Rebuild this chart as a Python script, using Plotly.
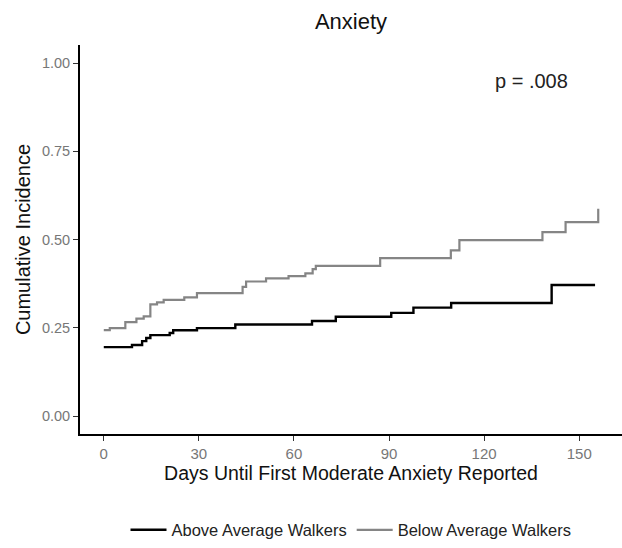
import plotly.graph_objects as go

# Step data (days, cumulative incidence)
above_days = [0, 8.9, 12.1, 13.4, 14.7, 20.8, 21.9, 29.4, 41.5, 65.7, 73.2, 90.7, 97.7, 109.6, 141.3, 155]
above_vals = [0.195, 0.201, 0.212, 0.221, 0.229, 0.235, 0.243, 0.249, 0.259, 0.269, 0.281, 0.292, 0.307, 0.320, 0.371, 0.371]

below_days = [0, 1.9, 6.8, 10.3, 12.6, 14.7, 16.8, 18.9, 25.4, 29.4, 43.8, 44.9, 51.2, 58.3, 63.6, 65.9, 66.9,
              87.2, 109.5, 112.2, 138.4, 145.7, 156, 156]
below_vals = [0.243, 0.249, 0.266, 0.276, 0.282, 0.316, 0.322, 0.329, 0.336, 0.348, 0.366, 0.381, 0.390, 0.396,
              0.404, 0.416, 0.425, 0.447, 0.469, 0.498, 0.521, 0.549, 0.549, 0.587]

x_ticks = [0, 30, 60, 90, 120, 150]
y_ticks = [0.0, 0.25, 0.5, 0.75, 1.0]
y_tick_labels = ["0.00", "0.25", "0.50", "0.75", "1.00"]

FONT = "Liberation Sans, Arial, sans-serif"

fig = go.Figure()
fig.add_trace(go.Scatter(x=above_days, y=above_vals, mode="lines", line_shape="hv",
                         line=dict(color="#000000", width=2.4), name="Above Average Walkers"))
fig.add_trace(go.Scatter(x=below_days, y=below_vals, mode="lines", line_shape="hv",
                         line=dict(color="#858585", width=2.2), name="Below Average Walkers"))

fig.add_annotation(x=135, y=0.95, text="p = .008", showarrow=False,
                   font=dict(family=FONT, size=20, color="#222222"))

fig.update_layout(
    width=622, height=548,
    margin=dict(l=80, r=0, t=45, b=110),
    paper_bgcolor="white", plot_bgcolor="white",
    font=dict(family=FONT),
    title=dict(text="Anxiety", xref="paper", x=0.5, xanchor="center", y=0.962, yanchor="middle",
               font=dict(family=FONT, size=22, color="#111111")),
    xaxis=dict(range=[-7.5, 163.5], tickvals=x_ticks, showgrid=False, zeroline=False,
               showline=True, linecolor="#000000", linewidth=1.8,
               ticks="outside", ticklen=5, tickwidth=1.4, tickcolor="#333333",
               tickfont=dict(family=FONT, size=15, color="#777777"),
               title=dict(text="Days Until First Moderate Anxiety Reported", standoff=3,
                          font=dict(family=FONT, size=19.5, color="#111111"))),
    yaxis=dict(range=[-0.051, 1.051], tickvals=y_ticks, ticktext=y_tick_labels, showgrid=False,
               zeroline=False, showline=True, linecolor="#000000", linewidth=1.8,
               ticks="outside", ticklen=5, tickwidth=1.4, tickcolor="#333333",
               tickfont=dict(family=FONT, size=14.5, color="#777777"),
               title=dict(text="Cumulative Incidence", standoff=6,
                          font=dict(family=FONT, size=20, color="#111111"))),
    legend=dict(orientation="h", x=0.5, xanchor="center", y=-0.247, yanchor="middle",
                font=dict(family=FONT, size=16.5, color="#222222"), itemwidth=36,
                bgcolor="rgba(0,0,0,0)"),
    showlegend=True,
)

fig.write_html("out.html")
